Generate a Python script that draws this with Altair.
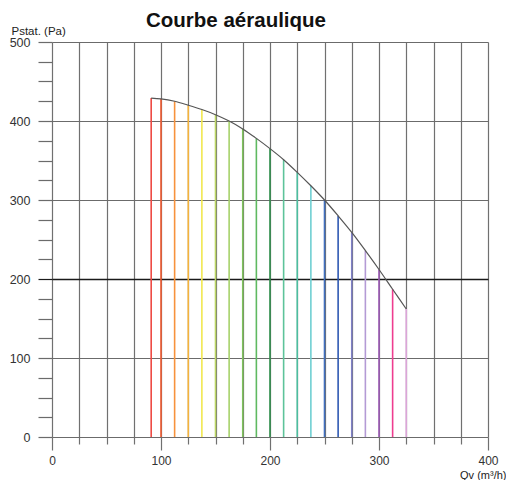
import altair as alt
import pandas as pd

# Data
qv = [91, 100, 112.5, 125, 137.5, 150, 162.5, 175, 187.5, 200, 212.5, 225,
      237.5, 250, 262.5, 275, 287.5, 300, 312.5, 325]
pstat = [429, 428, 425, 420, 414.5, 408, 400, 390, 378, 365, 351, 335,
         318, 300, 280, 259, 236, 212, 187, 162]
colors = ["#ee4a43", "#f05a30", "#f7923c", "#f3b33e", "#f1e84e", "#bcd766",
          "#a6d26a", "#7fc35c", "#5fb961", "#2f8f4c", "#5dc39a", "#4dbd9f",
          "#6fcfd2", "#4070c0", "#2e58b2", "#7f80c6", "#b49ad5", "#9b58b5",
          "#ee3d8f", "#dba5d8"]

x_ticks = list(range(0, 401, 25))
y_ticks = list(range(0, 501, 25))

df = pd.DataFrame({"q": qv, "p": pstat, "c": colors})

FONT = "Liberation Sans"

x_axis = alt.Axis(
    values=x_ticks,
    labelExpr="datum.value % 100 === 0 ? datum.label : ''",
    grid=True, gridColor="#707070", gridWidth=1.2,
    domain=False,
    tickColor="#707070", tickWidth=1.2,
    tickSize={"condition": {"test": "datum.value % 100 === 0", "value": 13}, "value": 7},
    labelPadding=5, labelFontSize=12, labelColor="#333333", labelFont=FONT,
    labelFlush=False, labelOverlap=False,
    title="Qv (m³/h)", titleFont=FONT, titleFontSize=11, titleFontWeight="normal",
    titleColor="#222222", titleAngle=0, titleAlign="right", titleBaseline="middle",
    titleX=454, titleY=38,
)

y_axis = alt.Axis(
    values=y_ticks,
    labelExpr="datum.value % 100 === 0 ? datum.label : ''",
    grid=True,
    gridOpacity={"condition": {"test": "datum.value % 100 === 0", "value": 1}, "value": 0},
    gridColor={"condition": {"test": "datum.value === 200", "value": "#1a1a1a"}, "value": "#6b6b6b"},
    gridWidth={"condition": {"test": "datum.value === 200", "value": 1.6}, "value": 1.2},
    domain=False,
    tickColor={"condition": {"test": "datum.value === 200", "value": "#1a1a1a"}, "value": "#6b6b6b"},
    tickWidth=1.2, tickSize=14,
    labelPadding=8, labelFontSize=12.5, labelColor="#333333", labelFont=FONT,
    labelFlush=False, labelOverlap=False,
    title="Pstat. (Pa)", titleFont=FONT, titleFontSize=11.5, titleFontWeight="normal",
    titleColor="#222222", titleAngle=0, titleAlign="left", titleBaseline="middle",
    titleX=-41, titleY=-11,
)

xs = alt.Scale(domain=[0, 400], nice=False, zero=False)
ys = alt.Scale(domain=[0, 500], nice=False)

rules = alt.Chart(df).mark_rule(strokeWidth=1.6).encode(
    x=alt.X("q:Q", scale=xs, axis=x_axis),
    y=alt.Y("p:Q", scale=ys, axis=y_axis),
    y2=alt.Y2(datum=0),
    color=alt.Color("c:N", scale=None),
)

curve = alt.Chart(df).mark_line(color="#555555", strokeWidth=1.2, interpolate="monotone").encode(
    x=alt.X("q:Q", scale=xs, axis=x_axis),
    y=alt.Y("p:Q", scale=ys, axis=y_axis),
)

chart = alt.layer(rules, curve).properties(
    width=436, height=395,
    autosize=alt.AutoSizeParams(type="none"),
    padding={"left": 44, "top": 34, "right": 18, "bottom": 43},
    title=alt.TitleParams(
        "Courbe aéraulique", font=FONT, fontSize=20.5, fontWeight="bold",
        color="#111111", anchor="start", frame="group", dx=94, dy=22,
        baseline="alphabetic", offset=0,
    ),
).configure_view(stroke=None)

chart.save("out.html", embed_options={"renderer": "svg", "actions": False})
